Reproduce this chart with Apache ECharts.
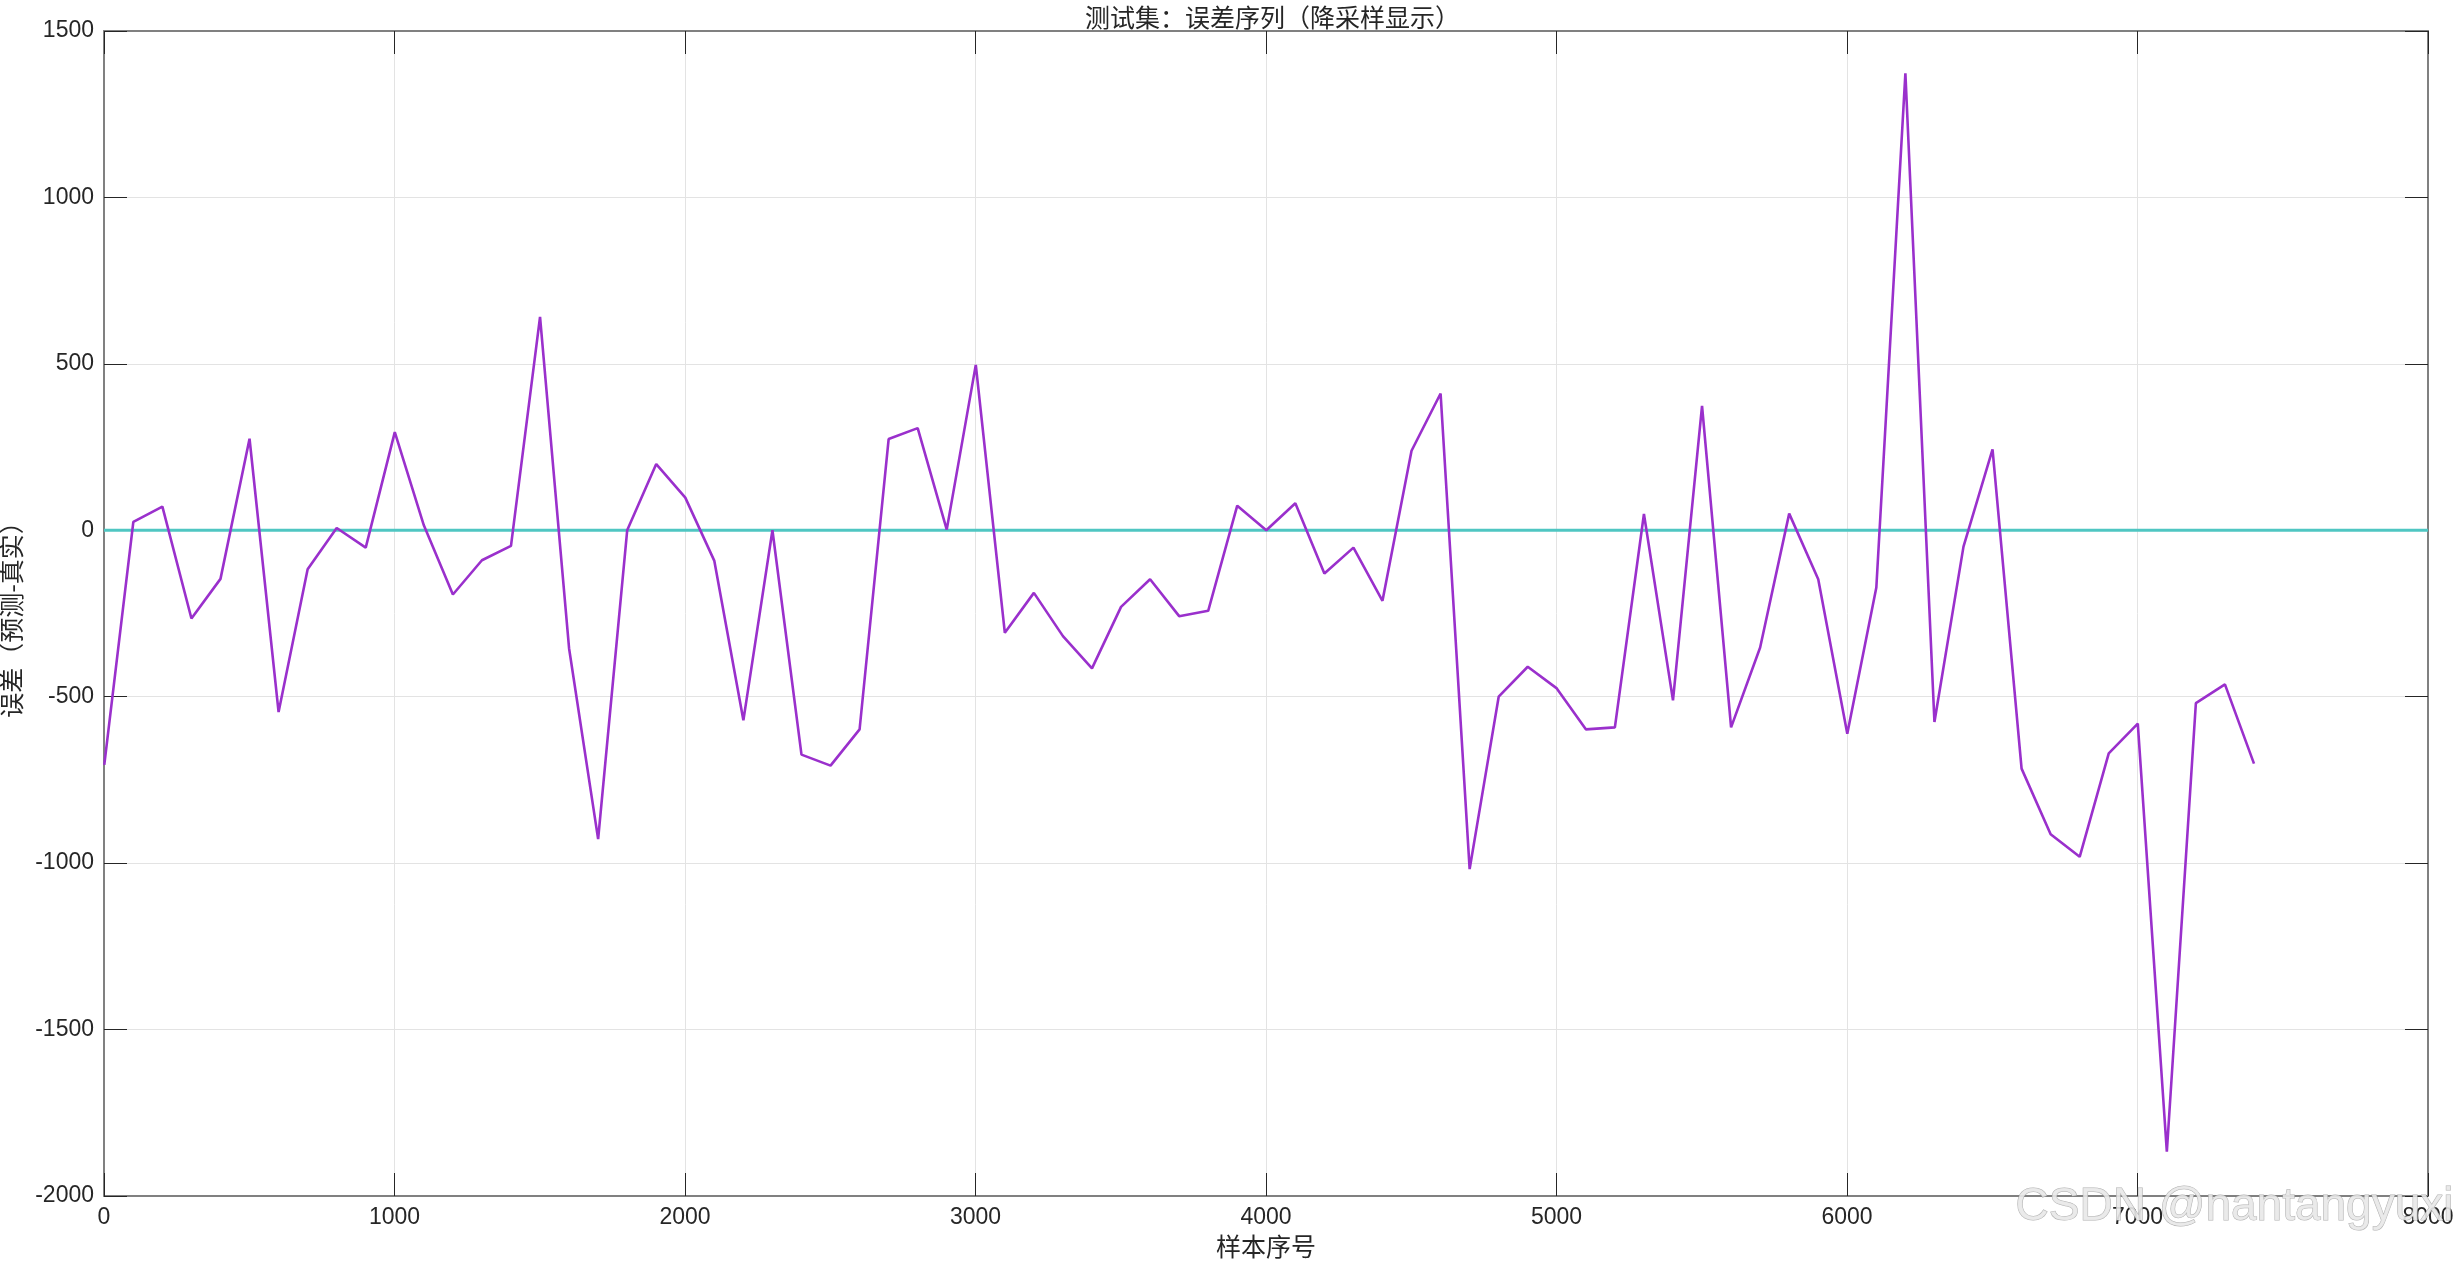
<!DOCTYPE html>
<html>
<head>
<meta charset="utf-8">
<style>
  html, body { margin: 0; padding: 0; background: #ffffff; }
  #chart { width: 2456px; height: 1262px; }
</style>
<script src="https://cdn.jsdelivr.net/npm/echarts@6/dist/echarts.min.js"></script>
</head>
<body>
<div id="chart"></div>
<script>
// ---- data ----
const titleText = '测试集：误差序列（降采样显示）';
const xName = '样本序号';
const yName = '误差（预测-真实）';
const watermark = 'CSDN @nantangyuxi';

const sampleIndex = [
  1, 101, 201, 301, 401, 501, 601, 701, 801, 901,
  1001, 1101, 1201, 1301, 1401, 1501, 1601, 1701, 1801, 1901,
  2001, 2101, 2201, 2301, 2401, 2501, 2601, 2701, 2801, 2901,
  3001, 3101, 3201, 3301, 3401, 3501, 3601, 3701, 3801, 3901,
  4001, 4101, 4201, 4301, 4401, 4501, 4601, 4701, 4801, 4901,
  5001, 5101, 5201, 5301, 5401, 5501, 5601, 5701, 5801, 5901,
  6001, 6101, 6201, 6301, 6401, 6501, 6601, 6701, 6801, 6901,
  7001, 7101, 7201, 7301, 7401
];
const errorValues = [
  -705, 25, 71, -265, -146, 275, -546, -117, 7, -52,
  295, 15, -193, -90, -47, 641, -355, -928, 0, 199,
  98, -92, -571, 0, -674, -707, -598, 274, 307, 2,
  497, -308, -188, -318, -415, -230, -147, -258, -242, 74,
  0, 81, -130, -52, -212, 239, 411, -1018, -500, -410,
  -475, -598, -592, 49, -511, 374, -592, -352, 50, -147,
  -611, -172, 1373, -576, -49, 243, -716, -913, -981, -670,
  -581, -1867, -519, -463, -701
];
const zeroLineX = [0, 8000];
const zeroLineY = [0, 0];

const xMin = 0, xMax = 8000, xStep = 1000;
const yMin = -2000, yMax = 1500, yStep = 500;

// ---- build ----
const lineData = sampleIndex.map((x, i) => [x, errorValues[i]]);
const zeroData = zeroLineX.map((x, i) => [x, zeroLineY[i]]);

const plainNum = v => String(v);
const tickFont = { fontFamily: 'Liberation Sans, Arial, sans-serif', fontSize: 23, color: '#262626' };
const cjkFont = '"Noto Sans CJK SC", sans-serif';
const frameColor = '#808080';
const tickColor = '#262626';
const gridColor = '#e3e3e3';

const chart = echarts.init(document.getElementById('chart'), null, { renderer: 'canvas' });
chart.setOption({
  backgroundColor: '#ffffff',
  animation: false,
  title: {
    text: titleText,
    left: 1080,
    top: 0,
    textStyle: { fontFamily: cjkFont, fontSize: 25, fontWeight: 'normal', color: '#262626' }
  },
  grid: { left: 104, right: 28, top: 31, bottom: 66, containLabel: false, outerBoundsMode: 'none' },
  xAxis: [
    {
      type: 'value', min: xMin, max: xMax, interval: xStep, position: 'bottom',
      name: xName, nameLocation: 'middle', nameGap: 38,
      nameTextStyle: { fontFamily: cjkFont, fontSize: 25, color: '#262626' },
      axisLine: { show: true, onZero: false, lineStyle: { color: frameColor, width: 2 } },
      axisTick: { show: true, inside: true, length: 23, lineStyle: { color: tickColor, width: 1 } },
      axisLabel: Object.assign({ margin: 10, formatter: plainNum }, tickFont),
      splitLine: { show: true, lineStyle: { color: gridColor, width: 1 } }
    },
    {
      type: 'value', min: xMin, max: xMax, interval: xStep, position: 'top',
      axisLine: { show: true, onZero: false, lineStyle: { color: frameColor, width: 2 } },
      axisTick: { show: true, inside: true, length: 23, lineStyle: { color: tickColor, width: 1 } },
      axisLabel: { show: false },
      splitLine: { show: false }
    }
  ],
  yAxis: [
    {
      type: 'value', min: yMin, max: yMax, interval: yStep, position: 'left',
      name: yName, nameLocation: 'middle', nameGap: 72, nameRotate: 90,
      nameTextStyle: { fontFamily: cjkFont, fontSize: 25, color: '#262626' },
      axisLine: { show: true, onZero: false, lineStyle: { color: frameColor, width: 2 } },
      axisTick: { show: true, inside: true, length: 23, lineStyle: { color: tickColor, width: 1 } },
      axisLabel: Object.assign({ margin: 10, formatter: plainNum }, tickFont),
      splitLine: { show: true, lineStyle: { color: gridColor, width: 1 } }
    },
    {
      type: 'value', min: yMin, max: yMax, interval: yStep, position: 'right',
      axisLine: { show: true, onZero: false, lineStyle: { color: frameColor, width: 2 } },
      axisTick: { show: true, inside: true, length: 23, lineStyle: { color: tickColor, width: 1 } },
      axisLabel: { show: false },
      splitLine: { show: false }
    }
  ],
  series: [
    {
      name: 'zero', type: 'line', data: zeroData, xAxisIndex: 0, yAxisIndex: 0,
      showSymbol: false, symbol: 'none', z: 2,
      lineStyle: { color: '#4fc6c2', width: 3 }
    },
    {
      name: 'error', type: 'line', data: lineData, xAxisIndex: 0, yAxisIndex: 0,
      showSymbol: false, symbol: 'none', z: 3,
      lineStyle: { color: '#9a30cc', width: 2.6 }
    }
  ],
  graphic: [
    {
      type: 'text', right: 2, top: 1184, z: 100,
      style: {
        text: watermark,
        font: '46px "Liberation Sans", Arial, sans-serif',
        fill: 'rgba(232,232,232,0.9)',
        stroke: 'rgba(150,150,150,0.75)',
        lineWidth: 1,
        shadowColor: 'rgba(110,110,110,0.6)',
        shadowBlur: 2,
        shadowOffsetX: 1,
        shadowOffsetY: 1
      }
    }
  ]
});
</script>
</body>
</html>
